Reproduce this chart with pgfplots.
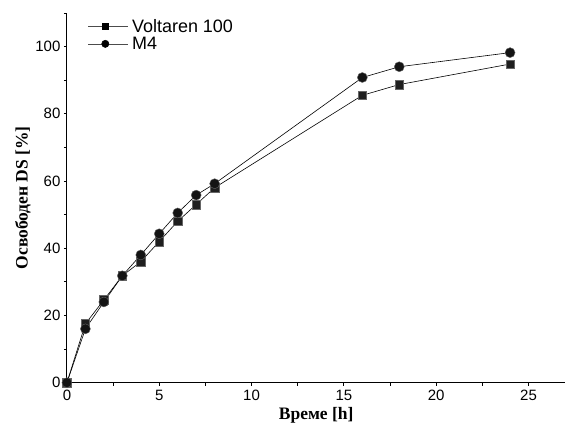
\documentclass[border=0pt]{standalone}
\usepackage{fontspec}
\setmainfont{Liberation Sans}
\newfontfamily\labelfont{Liberation Serif}
\usepackage{pgfplots}
\pgfplotsset{compat=1.18}

\begin{document}
\begin{tikzpicture}
  \begin{axis}[
      scale only axis,
      width=499pt, height=370pt,
      xmin=0, xmax=27, ymin=0, ymax=110,
      axis x line=bottom, axis y line=left,
      axis line style={-, line width=1.1pt},
      xtick={0,5,...,25}, ytick={0,20,...,100},
      minor xtick={2.5,7.5,...,27.5}, minor ytick={10,30,...,110},
      tick align=outside, major tick length=3pt, minor tick length=3pt,
      tick style={black, line width=0.8pt},
      /pgf/number format/assume math mode=true,
      tick label style={font=\fontsize{15}{17}\selectfont},
      xticklabel style={yshift=-1pt},
      xlabel={\labelfont\bfseries Време [h]},
      ylabel={\labelfont\bfseries Освободен DS [\%]},
      label style={font=\fontsize{17.5}{19}\selectfont},
      xlabel style={yshift=0pt},
      ylabel style={yshift=-2pt},
      clip=false,
      legend style={draw=none, fill=none, at={(rel axis cs:0.042,0.994)}, anchor=north west,
        font=\fontsize{18}{19}\selectfont, row sep=-1pt, cells={anchor=west},
        inner xsep=0pt, nodes={inner xsep=3.5pt}},
      legend image code/.code={
        \draw[#1, mark=none, line width=0.5pt, black!70] (0pt,0pt) -- (40pt,0pt);
        \draw[#1, mark options={scale=0.72}] plot coordinates {(17pt,0pt)};
      },
    ]

    \addplot[black, line width=0.6pt, mark=square*, mark size=4.3pt, mark options={fill=black!88, draw=black!60, line width=0.4pt}] coordinates {
        (0,0) (1,17.5) (2,24.6) (3,31.8) (4,36) (5,42) (6,48) (7,53)
        (8,58) (16,85.5) (18,88.7) (24,94.8)
    };
    \addlegendentry{Voltaren 100}

    \addplot[black, line width=0.6pt, mark=*, mark size=5pt, mark options={fill=black!92, draw=black!60, line width=0.4pt}] coordinates {
        (0,0) (1,16) (2,24) (3,31.8) (4,38) (5,44.3) (6,50.5) (7,55.8)
        (8,59.2) (16,90.8) (18,94) (24,98.2)
    };
    \addlegendentry{M4}

    \path (rel axis cs:0,0) ++(-67pt,-47pt) (rel axis cs:1,1) ++(0pt,13pt);
  \end{axis}
\end{tikzpicture}
\end{document}
